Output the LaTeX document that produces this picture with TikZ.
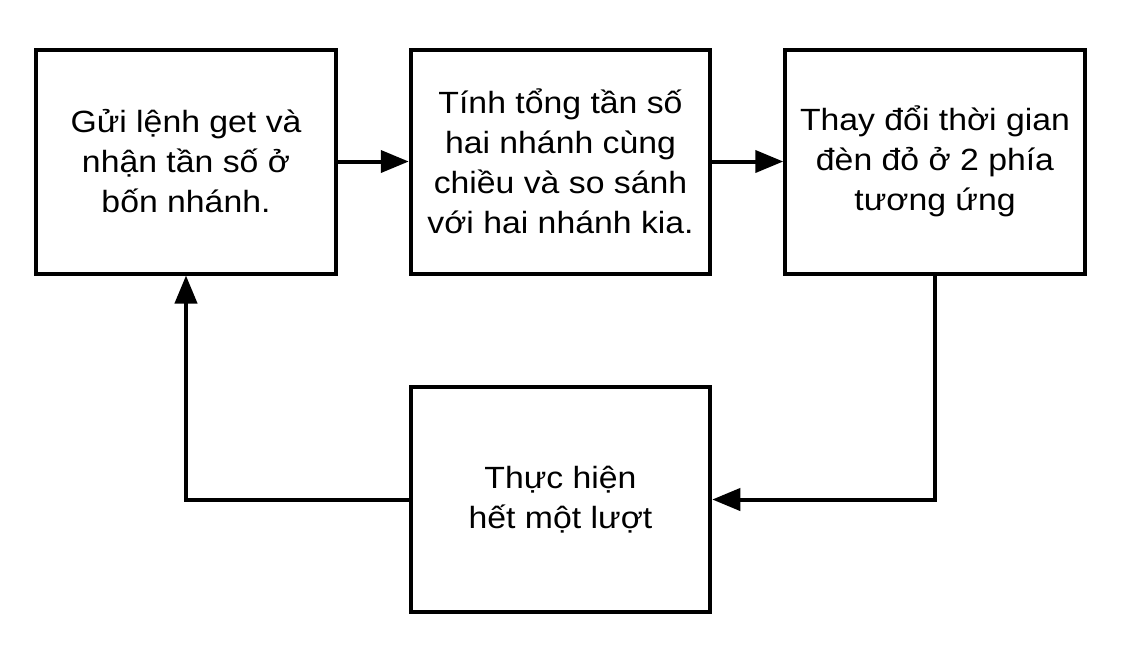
\documentclass[tikz,border=0pt]{standalone}
\usepackage{fontspec}
\setmainfont{Liberation Sans}[FakeStretch=1.1]
\usetikzlibrary{arrows.meta}
\tikzset{
  stepbox/.style={draw=black, line width=4pt, minimum width=299.5pt, minimum height=224pt,
    inner sep=0pt, align=center, font=\fontsize{30.7pt}{40pt}\selectfont},
  flow/.style={line width=4pt, -{Triangle[length=28pt,width=22pt]}}
}
\begin{document}
\begin{tikzpicture}[x=1pt,y=-1pt]
\useasboundingbox (0,0) rectangle (1129,657);
\node[stepbox] (b1) at (186,161.5) {Gửi lệnh get và\\nhận tần số ở\\bốn nhánh.};
\node[stepbox] (b2) at (560.5,161.5) {Tính tổng tần số\\hai nhánh cùng\\chiều và so sánh\\với hai nhánh kia.};
\node[stepbox] (b3) at (935,161.5) {Thay đổi thời gian\\đèn đỏ ở 2 phía\\tương ứng};
\node[stepbox, minimum height=225pt] (b4) at (560.5,499.5) {Thực hiện\\hết một lượt};
\draw[flow] (b1.east) -- (b2.west);
\draw[flow] (b2.east) -- (b3.west);
\draw[flow] (b3.south) |- (b4.east);
\draw[flow] (b4.west) -| (b1.south);
\end{tikzpicture}
\end{document}
